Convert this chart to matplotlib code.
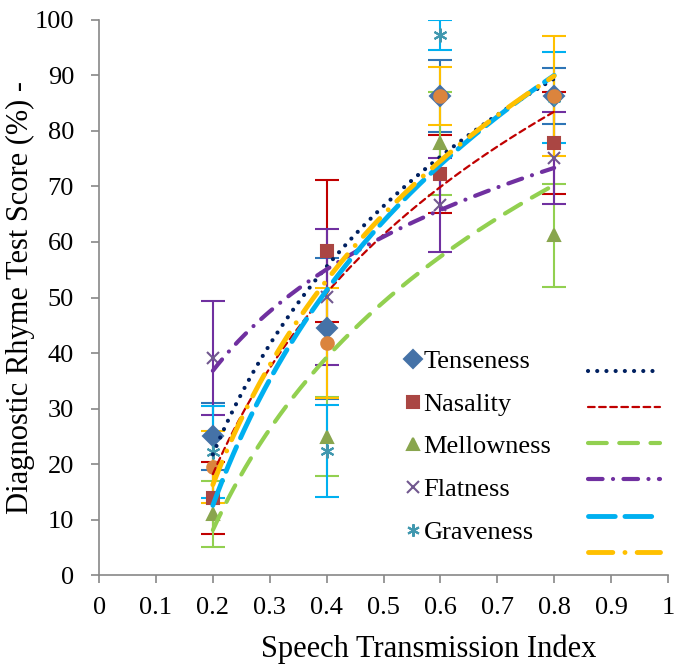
import numpy as np
import matplotlib
matplotlib.use("Agg")
import matplotlib.pyplot as plt
from matplotlib.lines import Line2D

plt.rcParams['font.family'] = ['Liberation Serif', 'DejaVu Serif']

# data
sti = [0.2, 0.4, 0.6, 0.8]
names = ['Tenseness', 'Nasality', 'Mellowness', 'Flatness', 'Graveness', 'Sibilation']
tenseness = [25.0, 44.5, 86.3, 86.3]
nasality = [13.9, 58.4, 72.3, 77.8]
mellowness = [11.0, 24.9, 77.8, 61.2]
flatness = [39.1, 50.1, 66.7, 75.1]
graveness = [22.2, 22.3, 97.3, 86.0]
sibilation = [19.5, 41.8, 86.3, 86.3]

tenseness_err = [6.0, 12.7, 6.5, 5.1]
nasality_err = [6.5, 12.8, 7.0, 9.2]
mellowness_err = [6.0, 7.1, 9.3, 9.3]
flatness_err = [10.3, 12.3, 8.5, 8.3]
graveness_err = [8.3, 8.3, 2.7, 8.2]
sibilation_err = [6.5, 9.9, 5.2, 10.8]

values = [tenseness, nasality, mellowness, flatness, graveness, sibilation]
errors = [tenseness_err, nasality_err, mellowness_err, flatness_err, graveness_err, sibilation_err]

markers = ['D', 's', '^', 'x', (6, 2, 0), 'o']
msizes = [10, 9, 9, 9, 10, 9]
mcolors = ['#4572A7', '#AA4643', '#89A54E', '#71588F', '#4198AF', '#DB843D']
ecolors = ['#2E75B6', '#C00000', '#92D050', '#7030A0', '#00B0F0', '#FFC000']
tcolors = ['#002060', '#C00000', '#92D050', '#7030A0', '#00B0F0', '#FFC000']
twidths = [3.0, 1.6, 3.0, 3.0, 3.5, 3.5]
tstyles = [(0, (0.01, 2.2)), (0, (3, 2)), (0, (4.5, 3)), (0, (3.5, 2.5, 0.01, 2.5)),
           (0, (5.5, 2)), (0, (5, 2.5, 0.01, 2.5))]

fig = plt.figure(figsize=(6.74, 6.66), dpi=100)
ax = fig.add_axes([0.147, 0.1366, 0.844, 0.8334])

for i in range(len(names)):
    ax.errorbar(sti, values[i], yerr=errors[i], fmt='none', ecolor=ecolors[i],
                elinewidth=1.5, capsize=8.5, capthick=1.5, zorder=2)

for i in range(len(names)):
    ax.plot(sti, values[i], linestyle='none', marker=markers[i], markersize=msizes[i],
            color=mcolors[i], markeredgecolor=mcolors[i], markeredgewidth=1.5, zorder=3)

# logarithmic trendlines
xs = np.linspace(0.2, 0.8, 200)
for i in range(len(names)):
    a, b = np.polyfit(np.log(sti), values[i], 1)
    ax.plot(xs, a * np.log(xs) + b, color=tcolors[i], lw=twidths[i],
            linestyle=tstyles[i], dash_capstyle='round', zorder=4)

ax.set_xlim(0, 1)
ax.set_ylim(0, 100)
ax.set_xticks(np.arange(0, 1.01, 0.1))
ax.set_xticklabels(['0', '0.1', '0.2', '0.3', '0.4', '0.5', '0.6', '0.7', '0.8', '0.9', '1'])
ax.set_yticks(np.arange(0, 101, 10))
ax.tick_params(labelsize=19, colors='#888888', length=6, width=1.2, labelcolor='black')
ax.tick_params(axis='x', pad=10)
ax.tick_params(axis='y', pad=12)
ax.spines['top'].set_visible(False)
ax.spines['right'].set_visible(False)
for s in ['left', 'bottom']:
    ax.spines[s].set_color('#888888')
    ax.spines[s].set_linewidth(1.2)

ax.set_xlabel('Speech Transmission Index', fontsize=22)
ax.xaxis.set_label_coords(0.58, -0.108)
ax.set_ylabel('Diagnostic Rhyme Test Score (%) -', fontsize=22)
ax.yaxis.set_label_coords(-0.112, 0.5)

# legend: markers with names
mhandles = [Line2D([], [], linestyle='none', marker=markers[i], markersize=msizes[i] - 1,
                   color=mcolors[i], markeredgecolor=mcolors[i], markeredgewidth=1.5)
            for i in range(5)]
leg1 = ax.legend(mhandles, names[:5], loc='upper left', bbox_to_anchor=(0.515, 0.43),
                 frameon=False, fontsize=19, handlelength=0.6, handletextpad=0.1,
                 labelspacing=0.73, borderpad=0)
ax.add_artist(leg1)

# legend: trendline samples
thandles = [Line2D([], [], color=tcolors[i], lw=twidths[i], linestyle=tstyles[i],
                   dash_capstyle='round') for i in range(6)]
ax.legend(thandles, [''] * 6, loc='upper left', bbox_to_anchor=(0.843, 0.397),
          frameon=False, fontsize=14, handlelength=3.7, handletextpad=0,
          labelspacing=0.95, borderpad=0)

fig.savefig('out.png', dpi=100)
